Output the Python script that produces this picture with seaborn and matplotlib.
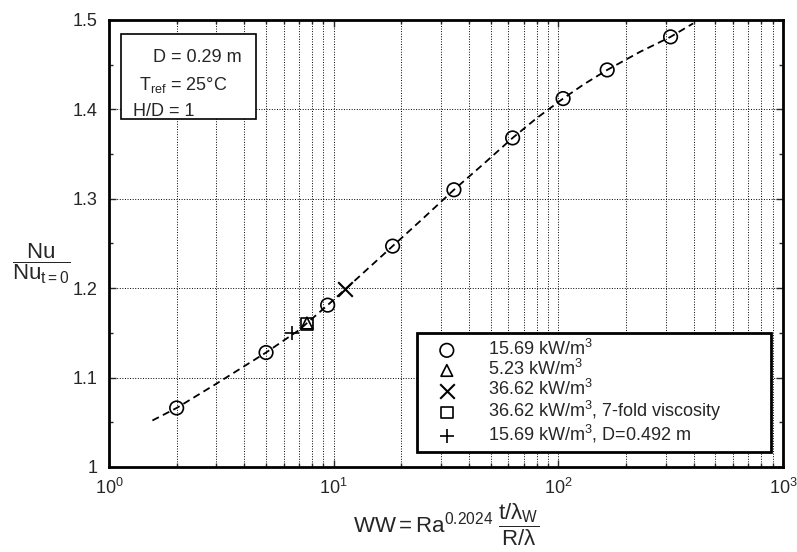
import matplotlib
matplotlib.use("Agg")
import matplotlib.pyplot as plt
import seaborn as sns
import numpy as np
from matplotlib.ticker import LogLocator, MultipleLocator
from matplotlib.patches import Rectangle

# ---- data ----
circ_x = [2.0, 5.0, 9.4, 18.3, 34.3, 62.6, 105, 165, 316]
circ_y = [1.066, 1.128, 1.181, 1.247, 1.310, 1.368, 1.412, 1.444, 1.481]
tri_x = [7.6]
tri_y = [1.161]
cross_x = [11.2]
cross_y = [1.199]
sq_x = [7.6]
sq_y = [1.160]
plus_x = [6.5]
plus_y = [1.150]
curve_x = [1.56, 2.0, 3.0, 5.0, 7.0, 9.4, 13.0, 18.3, 25.0, 34.3, 47.0, 62.6, 80.0, 105, 130, 165, 230, 316, 398]
curve_y = [1.052, 1.066, 1.093, 1.128, 1.153, 1.181, 1.213, 1.247, 1.278, 1.310, 1.340, 1.368, 1.390, 1.412, 1.428, 1.444, 1.464, 1.481, 1.496]

labels = [r"15.69 kW/m$^3$", r"5.23 kW/m$^3$", r"36.62 kW/m$^3$",
          r"36.62 kW/m$^3$, 7-fold viscosity", r"15.69 kW/m$^3$, D=0.492 m"]
yticks = [1.0, 1.1, 1.2, 1.3, 1.4, 1.5]
ytick_labels = ["1", "1.1", "1.2", "1.3", "1.4", "1.5"]

sns.set_style("white")
plt.rcParams["font.family"] = ["Liberation Sans", "DejaVu Sans"]
plt.rcParams["mathtext.fontset"] = "custom"
plt.rcParams["mathtext.rm"] = "Liberation Sans"
plt.rcParams["mathtext.it"] = "Liberation Sans"
plt.rcParams["mathtext.bf"] = "Liberation Sans:bold"

fig = plt.figure(figsize=(7.97, 5.52), dpi=100)
ax = fig.add_axes([0.1368, 0.154, 0.8456, 0.810])

sns.lineplot(x=curve_x, y=curve_y, ax=ax, color="black", linestyle=(0, (4, 2.5)),
             linewidth=1.3, sort=False, estimator=None)

ms = 95
sns.scatterplot(x=circ_x, y=circ_y, ax=ax, marker="o", s=ms, facecolors="none",
                edgecolor="black", linewidth=1.2, label=labels[0], zorder=5)
sns.scatterplot(x=tri_x, y=tri_y, ax=ax, marker="^", s=70, facecolors="none",
                edgecolor="black", linewidth=1.2, label=labels[1], zorder=5)
sns.scatterplot(x=cross_x, y=cross_y, ax=ax, marker="x", s=110, color="black",
                linewidth=1.5, label=labels[2], zorder=5)
sns.scatterplot(x=sq_x, y=sq_y, ax=ax, marker="s", s=70, facecolors="none",
                edgecolor="black", linewidth=1.2, label=labels[3], zorder=5)
sns.scatterplot(x=plus_x, y=plus_y, ax=ax, marker="+", s=110, color="black",
                linewidth=1.2, label=labels[4], zorder=5)

ax.set_xscale("log")
ax.set_xlim(1, 1000)
ax.set_ylim(1.0, 1.5)
ax.xaxis.set_major_locator(LogLocator(base=10, numticks=10))
ax.xaxis.set_minor_locator(LogLocator(base=10, subs=np.arange(2, 10), numticks=20))
ax.set_yticks(yticks)
ax.set_yticklabels(ytick_labels)
ax.yaxis.set_minor_locator(MultipleLocator(0.05))

ax.grid(True, which="major", color="black", linestyle=":", linewidth=0.7)
ax.grid(True, which="minor", axis="x", color="black", linestyle=":", linewidth=0.7)
ax.tick_params(which="both", direction="in", length=5, width=1, labelsize=13,
               bottom=True, left=True, top=True, right=True, pad=8)
ax.tick_params(which="minor", length=3)
for sp in ax.spines.values():
    sp.set_color("black")
    sp.set_linewidth(2)

ax.set_xlabel(r"$\mathrm{WW = Ra}^{0.2024}\ \dfrac{t/\lambda_W}{R/\lambda}$", fontsize=16, labelpad=2)
ax.set_ylabel(r"$\dfrac{\mathrm{Nu}}{\mathrm{Nu}_{t=0}}$", fontsize=16, rotation=0,
              va="center", ha="center")
ax.yaxis.set_label_coords(-0.1, 0.455)

# info box
box = Rectangle((0.018, 0.778), 0.2, 0.19, transform=ax.transAxes, facecolor="white",
                edgecolor="black", linewidth=1.2, zorder=6)
ax.add_patch(box)
ax.text(0.065, 0.915, "D = 0.29 m", transform=ax.transAxes, fontsize=13, zorder=7, va="center")
ax.text(0.044, 0.855, r"T$_{\mathrm{ref}}$ = 25°C", transform=ax.transAxes, fontsize=13, zorder=7, va="center")
ax.text(0.036, 0.795, "H/D = 1", transform=ax.transAxes, fontsize=13, zorder=7, va="center")

leg = ax.legend(loc="lower left", bbox_to_anchor=(0.457, 0.034, 0.525, 0.271), mode="expand",
                borderaxespad=0, fontsize=13, frameon=True, fancybox=False, labelspacing=0.0,
                handletextpad=1.0, borderpad=0.35, handlelength=2.6)
leg.get_frame().set_edgecolor("black")
leg.get_frame().set_linewidth(2)
leg.get_frame().set_alpha(1)
leg.set_zorder(8)

fig.savefig("out.png", dpi=100)
